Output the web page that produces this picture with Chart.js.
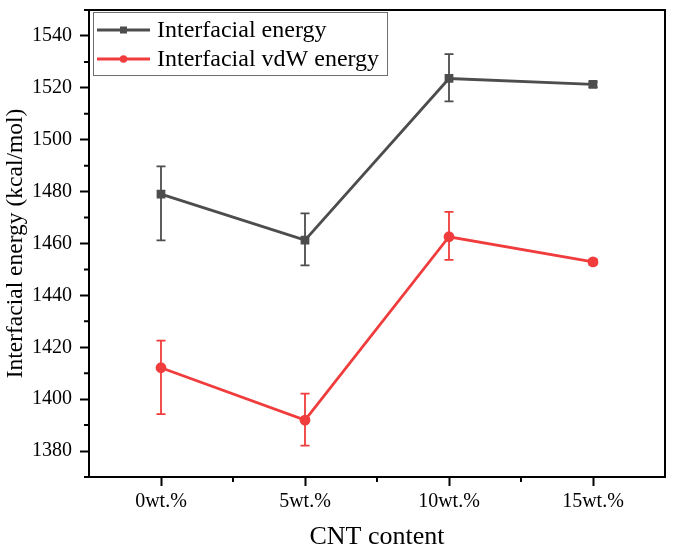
<!DOCTYPE html>
<html>
<head>
  <meta charset="utf-8"/>
  <script src="https://cdn.jsdelivr.net/npm/chart.js@4.4.1/dist/chart.umd.min.js"></script>
  <style>
    html, body { margin: 0; padding: 0; background: #ffffff; }
    #wrap { width: 674px; height: 553px; }
  </style>
</head>
<body>
  <div id="wrap"><canvas id="chart"></canvas></div>
  <script>
    // values
    var categories = ["0wt.%", "5wt.%", "10wt.%", "15wt.%"];
    var totalEnergy = [1479.0, 1461.3, 1523.6, 1521.3];
    var totalErrUp = [10.7, 10.3, 9.4, 1.0];
    var totalErrDown = [17.8, 9.7, 8.8, 1.0];
    var vdwEnergy = [1412.1, 1391.9, 1462.6, 1452.9];
    var vdwErrUp = [10.5, 10.2, 9.6, 1.0];
    var vdwErrDown = [17.9, 9.8, 8.9, 1.0];
    var yTicks = [1380, 1400, 1420, 1440, 1460, 1480, 1500, 1520, 1540];
    var yMinorTicks = [1370, 1390, 1410, 1430, 1450, 1470, 1490, 1510, 1530, 1550];

    var GREY = "#4d4d4d";
    var RED = "#f03c3c";
    var FONT = "'Liberation Serif', 'Times New Roman', serif";

    var errors = [
      { up: totalErrUp, down: totalErrDown },
      { up: vdwErrUp, down: vdwErrDown }
    ];

    // frame, minor ticks, error bars and the boxed legend
    var extras = {
      id: "extras",
      beforeDatasetsDraw: function(chart) {
        var ctx = chart.ctx;
        var y = chart.scales.y;
        ctx.save();
        ctx.lineWidth = 1.8;
        chart.data.datasets.forEach(function(ds, i) {
          var meta = chart.getDatasetMeta(i);
          ctx.strokeStyle = ds.borderColor;
          meta.data.forEach(function(pt, j) {
            var v = ds.data[j];
            var top = y.getPixelForValue(v + errors[i].up[j]);
            var bot = y.getPixelForValue(v - errors[i].down[j]);
            ctx.beginPath();
            ctx.moveTo(pt.x, top); ctx.lineTo(pt.x, bot);
            ctx.moveTo(pt.x - 4.5, top); ctx.lineTo(pt.x + 4.5, top);
            ctx.moveTo(pt.x - 4.5, bot); ctx.lineTo(pt.x + 4.5, bot);
            ctx.stroke();
          });
        });
        ctx.restore();
      },
      afterDraw: function(chart) {
        var ctx = chart.ctx;
        var a = chart.chartArea;
        var x = chart.scales.x, y = chart.scales.y;
        ctx.save();
        ctx.strokeStyle = "#000";
        ctx.lineWidth = 2;
        ctx.beginPath();
        ctx.moveTo(a.left, a.top); ctx.lineTo(a.right, a.top); ctx.lineTo(a.right, a.bottom);
        ctx.stroke();
        // minor ticks
        ctx.beginPath();
        yMinorTicks.forEach(function(v) {
          var py = y.getPixelForValue(v);
          ctx.moveTo(a.left, py); ctx.lineTo(a.left - 5, py);
        });
        for (var k = 0; k < categories.length - 1; k++) {
          var px = (x.getPixelForValue(k) + x.getPixelForValue(k + 1)) / 2;
          ctx.moveTo(px, a.bottom); ctx.lineTo(px, a.bottom + 5);
        }
        ctx.stroke();

        // legend
        var lx = 93.5, ly = 12.5, lw = 294, lh = 63;
        ctx.strokeStyle = "#6e6e6e";
        ctx.lineWidth = 1;
        ctx.strokeRect(lx, ly, lw, lh);
        ctx.font = "24px " + FONT;
        ctx.textBaseline = "middle";
        chart.data.datasets.forEach(function(ds, i) {
          var ry = 30 + i * 29;
          ctx.strokeStyle = ds.borderColor;
          ctx.lineWidth = 2.8;
          ctx.beginPath();
          ctx.moveTo(97, ry); ctx.lineTo(150, ry);
          ctx.stroke();
          ctx.fillStyle = ds.borderColor;
          if (ds.pointStyle === "rect") {
            ctx.fillRect(120, ry - 3.5, 7, 7);
          } else {
            ctx.beginPath();
            ctx.arc(123.5, ry, 3.8, 0, Math.PI * 2);
            ctx.fill();
          }
          ctx.fillStyle = "#000";
          ctx.fillText(ds.label, 157, ry + 1);
        });
        ctx.restore();
      }
    };

    new Chart(document.getElementById("chart"), {
      type: "line",
      data: {
        labels: categories,
        datasets: [
          {
            label: "Interfacial energy",
            data: totalEnergy,
            borderColor: GREY,
            backgroundColor: GREY,
            borderWidth: 2.8,
            pointStyle: "rect",
            pointRadius: 4.2,
            tension: 0
          },
          {
            label: "Interfacial vdW energy",
            data: vdwEnergy,
            borderColor: RED,
            backgroundColor: RED,
            borderWidth: 2.8,
            pointStyle: "circle",
            pointRadius: 4,
            tension: 0
          }
        ]
      },
      options: {
        responsive: true,
        maintainAspectRatio: false,
        animation: false,
        layout: { padding: { top: 10, right: 9, left: 0, bottom: 0 } },
        plugins: {
          legend: { display: false },
          tooltip: { enabled: false }
        },
        scales: {
          x: {
            type: "category",
            offset: true,
            grid: { drawOnChartArea: false, offset: false, tickLength: 9, tickWidth: 2, tickColor: "#000" },
            border: { display: true, width: 2, color: "#000" },
            ticks: { color: "#000", font: { family: FONT, size: 20 }, padding: 4 },
            title: { display: true, text: "CNT content", color: "#000", font: { family: FONT, size: 26 }, padding: { top: 0, bottom: 0 } },
            afterFit: function(s) { s.height = 76; s.paddingLeft = 0; s.paddingRight = 0; }
          },
          y: {
            min: 1370,
            max: 1550,
            afterBuildTicks: function(s) { s.ticks = yTicks.map(function(v) { return { value: v }; }); },
            grid: { drawOnChartArea: false, tickLength: 9, tickWidth: 2, tickColor: "#000" },
            border: { display: true, width: 2, color: "#000" },
            ticks: { color: "#000", font: { family: FONT, size: 20 }, padding: 8, callback: function(v) { return String(v); } },
            title: { display: true, text: "Interfacial energy (kcal/mol)", color: "#000", font: { family: FONT, size: 23.5 }, padding: { top: 2, bottom: 0 } },
            afterFit: function(s) { s.width = 89; s.paddingTop = 0; s.paddingBottom = 0; }
          }
        }
      },
      plugins: [extras]
    });
  </script>
</body>
</html>
